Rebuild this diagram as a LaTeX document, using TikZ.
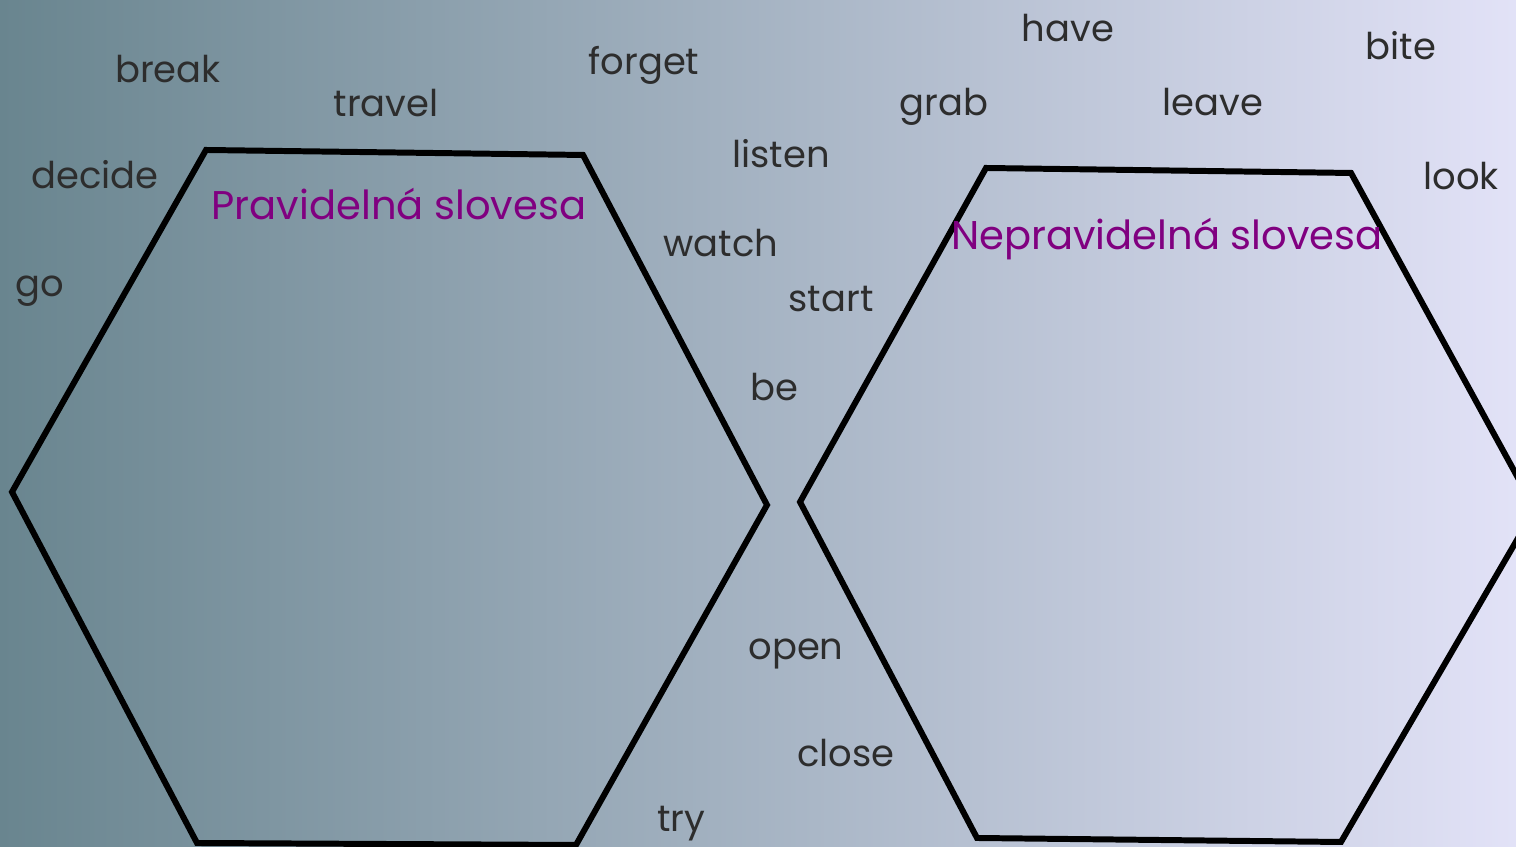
\documentclass[tikz,border=0pt]{standalone}
\usepackage{fontspec}
\setmainfont{Poppins}
\definecolor{bgLeft}{RGB}{105,133,143}
\definecolor{bgRight}{RGB}{226,226,247}
\definecolor{wordGrey}{RGB}{45,45,45}
\definecolor{titlePurple}{RGB}{128,0,128}

\begin{document}
\begin{tikzpicture}
[hexDecorate/.style={line width=1.7pt,line join=miter,draw=black},%
  wordDecorate/.style={anchor=base,inner sep=0pt,text=wordGrey,font=\fontsize{10.5}{13}\selectfont},%
  titleDecorate/.style={anchor=base,inner sep=0pt,text=titlePurple,font=\fontsize{11.4}{14}\selectfont}]
\useasboundingbox (0,0) rectangle (15.16,8.47);
\clip (0,0) rectangle (15.16,8.47);
\shade[left color=bgLeft,right color=bgRight] (0,0) rectangle (15.16,8.47);
%% hexagon corners
\foreach \cornername/\x/\y in {
  a1/2.06/6.97, a2/5.83/6.92, a3/7.67/3.42, a4/5.76/0.02, a5/1.97/0.04, a6/0.12/3.55,
  b1/9.86/6.79, b2/13.51/6.74, b3/15.35/3.38, b4/13.41/0.05, b5/9.77/0.09, b6/8.00/3.45}
{
  \coordinate (\cornername) at (\x,\y);
}
%% hexagons
\draw[hexDecorate] (a1) -- (a2) -- (a3) -- (a4) -- (a5) -- (a6) -- cycle;
\draw[hexDecorate] (b1) -- (b2) -- (b3) -- (b4) -- (b5) -- (b6) -- cycle;
%% titles
\node (regular) at (3.99,6.27) [titleDecorate] {Pravidelná slovesa};
\node (irregular) at (11.67,5.97) [titleDecorate] {Nepravidelná slovesa};
%% words
\foreach \wordname/\x/\y in {
  break/1.68/7.64, travel/3.86/7.30, forget/6.44/7.72, decide/0.95/6.58,
  go/0.40/5.50, listen/7.81/6.79, watch/7.21/5.90, start/8.31/5.35,
  be/7.74/4.46, have/10.68/8.05, grab/9.44/7.31, leave/12.13/7.31,
  bite/14.01/7.87, look/14.61/6.57, open/7.96/1.87, close/8.46/0.80,
  try/6.81/0.15}
{
  \node (\wordname) at (\x,\y) [wordDecorate] {\wordname};
}
\end{tikzpicture}
\end{document}
